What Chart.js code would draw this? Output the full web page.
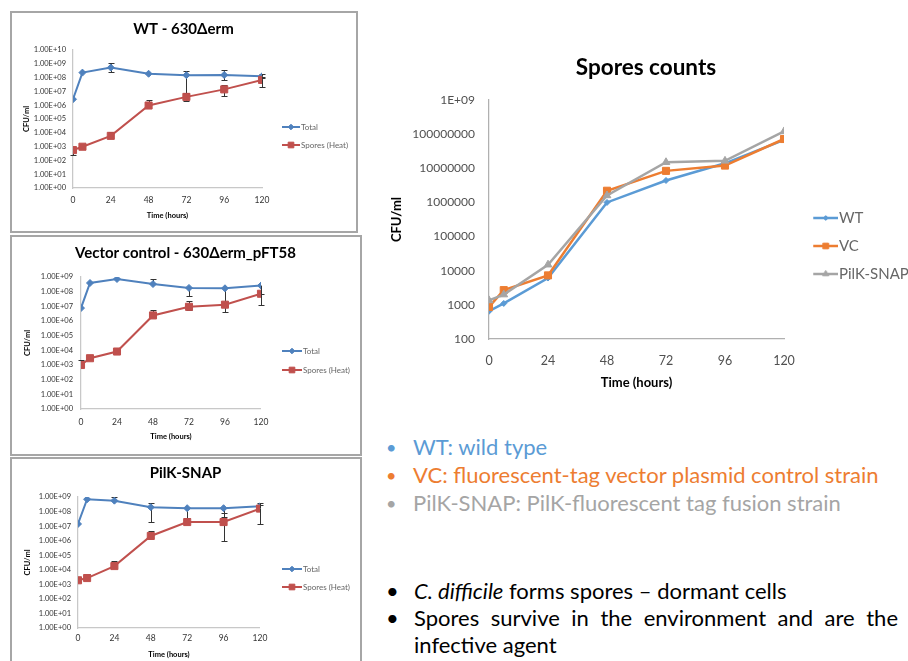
<!DOCTYPE html>
<html>
<head>
<meta charset="utf-8">
<script src="https://cdn.jsdelivr.net/npm/chart.js@4.4.1/dist/chart.umd.min.js"></script>
<style>
  html, body { margin: 0; padding: 0; background: #fff; }
  body { width: 908px; height: 661px; position: relative; overflow: hidden; font-family: Lato, "Open Sans", sans-serif; }
  .wrap { position: absolute; }
  .panel { position: absolute; border: 2px solid #a6a6a6; box-sizing: border-box; }
  .keys { position: absolute; left: 370px; top: 433px; font-size: 22px; line-height: 28px; }
  .keys div { position: relative; padding-left: 43px; white-space: nowrap; }
  .keys div::before { content: "\2022"; position: absolute; left: 16px; font-size: 18px; }
  .notes { position: absolute; left: 414px; top: 577px; width: 484px; font-size: 22px; line-height: 27px; text-align: justify; color: #000; }
  .notes p { margin: 0; position: relative; }
  .notes p::before { content: "\2022"; position: absolute; left: -28px; }
</style>
</head>
<body>

<div class="panel" style="left:10px;top:11px;width:348px;height:222px"></div>
<div class="panel" style="left:10px;top:235px;width:352px;height:221px"></div>
<div class="panel" style="left:10px;top:457px;width:352px;height:210px"></div>

<div class="wrap" id="w-wt"><canvas id="c-wt"></canvas></div>
<div class="wrap" id="w-vc"><canvas id="c-vc"></canvas></div>
<div class="wrap" id="w-pk"><canvas id="c-pk"></canvas></div>
<div class="wrap" id="w-main"><canvas id="c-main"></canvas></div>

<div class="keys">
  <div style="color:#5b9bd5">WT: wild type</div>
  <div style="color:#ed7d31">VC: fluorescent-tag vector plasmid control strain</div>
  <div style="color:#a5a5a5">PilK-SNAP: PilK-fluorescent tag fusion strain</div>
</div>

<div class="notes">
  <p><i>C. difficile</i> forms spores – dormant cells</p>
  <p>Spores survive in the environment and are the infective agent</p>
</div>

<script>
// time points (hours)
const hours = [0, 6, 24, 48, 72, 96, 120];
const hourTicks = [0, 24, 48, 72, 96, 120];

// WT - 630Δerm
const wtTotal = [2.7e6, 2.3e8, 5.3e8, 1.9e8, 1.5e8, 1.55e8, 1.25e8];
const wtTotalHi = [null, null, 1.1e9, null, 3e8, 3.5e8, 1.8e8];
const wtTotalLo = [null, null, 2.7e8, null, 7.5e6, 7e7, 9e7];
const wtSpores = [560, 980, 6000, 9.5e5, 4e6, 1.4e7, 6.8e7];
const wtSporesHi = [null, null, 1.2e4, 2.4e6, 7e6, 3e7, 1.2e8];
const wtSporesLo = [260, null, null, null, 2e6, 4.3e6, 2.2e7];

// Vector control - 630Δerm_pFT58
const vcTotal = [7.6e6, 3.9e8, 7.3e8, 3.3e8, 1.8e8, 1.7e8, 2.6e8];
const vcTotalHi = [null, null, null, 7e8, null, null, null];
const vcTotalLo = [null, null, null, null, 4.8e7, 2e7, 7e7];
const vcSpores = [1000, 2900, 8300, 2.4e6, 9.3e6, 1.3e7, 7.2e7];
const vcSporesHi = [2200, null, 1.5e4, 5.5e6, 2.2e7, null, null];
const vcSporesLo = [null, null, null, null, 6e6, 4e6, 1.2e7];

// PilK-SNAP
const pkTotal = [1.4e7, 7e8, 5.6e8, 2e8, 1.7e8, 1.7e8, 2.3e8];
const pkTotalHi = [null, null, 1e9, 4e8, null, null, 4e8];
const pkTotalLo = [null, null, null, 2e7, 3.5e7, 4e7, null];
const pkSpores = [1900, 2700, 1.8e4, 2.1e6, 1.9e7, 1.9e7, 1.6e8];
const pkSporesHi = [null, 5500, 3.8e4, 4.5e6, null, 8e7, 3e8];
const pkSporesLo = [null, null, null, null, null, 1e6, 1.4e7];

// Spores counts (summary)
const sporesWT = [650, 1100, 6100, 1e6, 4.4e6, 1.4e7, 6.8e7];
const sporesVC = [870, 2700, 7300, 2.2e6, 8.4e6, 1.2e7, 7.2e7];
const sporesPK = [1350, 2000, 1.5e4, 1.6e6, 1.5e7, 1.65e7, 1.2e8];

// y ticks
const sciTicks = [1, 10, 100, 1e3, 1e4, 1e5, 1e6, 1e7, 1e8, 1e9, 1e10];
const sciLabels = ['1.00E+00', '1.00E+01', '1.00E+02', '1.00E+03', '1.00E+04', '1.00E+05',
  '1.00E+06', '1.00E+07', '1.00E+08', '1.00E+09', '1.00E+10'];
const mainTicks = [100, 1e3, 1e4, 1e5, 1e6, 1e7, 1e8, 1e9];
const mainLabels = ['100', '1000', '10000', '100000', '1000000', '10000000', '100000000', '1E+09'];

Chart.defaults.font.family = 'Lato, "Open Sans", sans-serif';

const pts = (vals) => hours.map((h, i) => ({ x: h, y: vals[i] }));
const lh = (s) => s * 1.2;

// error bars, drawn through the scales
const errorBars = {
  id: 'errorBars',
  beforeDatasetsDraw(chart) {
    const { ctx, scales: { x, y } } = chart;
    ctx.save();
    ctx.strokeStyle = '#333';
    ctx.lineWidth = 1;
    chart.data.datasets.forEach((ds) => {
      if (!ds.errHi) return;
      ds.data.forEach((pt, i) => {
        const px = Math.round(x.getPixelForValue(pt.x)) + 0.5;
        const py = y.getPixelForValue(pt.y);
        [ds.errHi[i], ds.errLo[i]].forEach((v) => {
          if (v == null) return;
          const ey = Math.round(y.getPixelForValue(v)) + 0.5;
          ctx.beginPath();
          ctx.moveTo(px, py); ctx.lineTo(px, ey);
          ctx.moveTo(px - 3, ey); ctx.lineTo(px + 3, ey);
          ctx.stroke();
        });
      });
    });
    ctx.restore();
  }
};

// legend icon: line with marker, right-aligned so it ends at the text
function legendIcon(ds, boxW, fontSize, lineLen) {
  const w = Math.round(boxW + fontSize - 2), h = 16;
  const c = document.createElement('canvas');
  c.width = w; c.height = h;
  const g = c.getContext('2d');
  g.strokeStyle = ds.borderColor;
  g.fillStyle = ds.backgroundColor;
  g.lineWidth = ds.borderWidth;
  g.beginPath();
  g.moveTo(w - lineLen, h / 2);
  g.lineTo(w, h / 2);
  g.stroke();
  g.lineWidth = 1;
  Chart.helpers.drawPoint(g, { pointStyle: ds.pointStyle, radius: ds.pointRadius * 0.8, borderWidth: 1, rotation: 0 }, w - lineLen / 2, h / 2);
  return c;
}

function buildChart(id, box, plot, o) {
  const wrap = document.getElementById('w-' + id);
  wrap.style.left = box.x + 'px';
  wrap.style.top = box.y + 'px';
  wrap.style.width = box.w + 'px';
  wrap.style.height = box.h + 'px';
  const right = box.x + box.w;
  const bottom = box.y + box.h;
  const padL = o.padL || 0;
  const icons = {};

  return new Chart(document.getElementById('c-' + id), {
    type: 'line',
    data: { datasets: o.datasets },
    options: {
      responsive: true,
      maintainAspectRatio: false,
      animation: false,
      devicePixelRatio: 1,
      layout: { padding: { left: padL, right: 0, top: 0, bottom: 0 } },
      plugins: {
        tooltip: { enabled: false },
        title: {
          display: true,
          text: o.title,
          color: '#000',
          font: { size: o.titleSize, weight: 'bold' },
          padding: { top: o.titleY - box.y - lh(o.titleSize) / 2, bottom: plot.t - o.titleY - lh(o.titleSize) / 2 },
        },
        legend: {
          position: 'right',
          fullSize: false,
          align: 'center',
          maxWidth: right - plot.r,
          title: { display: true, text: '', font: { size: 1, lineHeight: 1 }, padding: { top: o.legShift * 2 - 1, bottom: 0 } },
          labels: {
            usePointStyle: true,
            pointStyleWidth: o.legBox,
            padding: o.legPad,
            color: o.legColor,
            font: { size: o.legSize },
            generateLabels: (chart) => chart.data.datasets.map((ds, i) => ({
              text: ds.label,
              pointStyle: icons[i] || (icons[i] = legendIcon(ds, o.legBox, o.legSize, o.legLine)),
              fillStyle: ds.backgroundColor,
              strokeStyle: ds.borderColor,
              lineWidth: 0,
              hidden: false,
              datasetIndex: i,
            })),
          },
        },
      },
      scales: {
        x: {
          type: 'linear',
          min: 0,
          max: 120,
          afterBuildTicks: (s) => { s.ticks = hourTicks.map((v) => ({ value: v })); },
          afterFit: (s) => { s.height = bottom - plot.b; },
          grid: { display: false, drawTicks: false },
          border: { color: o.axisColor, width: 1.25 },
          ticks: { autoSkip: false, maxRotation: 0, color: o.tickColor, font: { size: o.xTickSize }, padding: o.xLabelY - plot.b - lh(o.xTickSize) / 2 },
          title: {
            display: true, text: 'Time (hours)', color: '#000',
            font: { size: o.axisSize, weight: 'bold' },
            padding: { top: 0, bottom: bottom - o.xTitleY - lh(o.axisSize) / 2 },
          },
        },
        y: {
          type: 'logarithmic',
          min: o.yTicks[0],
          max: o.yTicks[o.yTicks.length - 1],
          afterBuildTicks: (s) => { s.ticks = o.yTicks.map((v) => ({ value: v })); },
          afterFit: (s) => { s.width = plot.l - box.x - padL; },
          grid: { display: false, drawTicks: false },
          border: { color: o.axisColor, width: 1.25 },
          ticks: { autoSkip: false, color: o.tickColor, font: { size: o.yTickSize }, padding: o.yPad, callback: (v, i) => o.yLabels[i] },
          title: {
            display: true, text: 'CFU/ml', color: '#000',
            font: { size: o.axisSize, weight: 'bold' },
            padding: { top: o.yTitleX - box.x - padL - lh(o.axisSize) / 2, bottom: 0 },
          },
        },
      },
    },
    plugins: [errorBars],
  });
}

// small panel series
function panelSets(total, totalHi, totalLo, spores, sporesHi, sporesLo) {
  return [
    { label: 'Total', data: pts(total), errHi: totalHi, errLo: totalLo, order: 2,
      borderColor: '#4f81bd', backgroundColor: '#4f81bd', borderWidth: 2,
      pointStyle: 'rectRot', pointRadius: 3.5, pointBorderWidth: 1 },
    { label: 'Spores (Heat)', data: pts(spores), errHi: sporesHi, errLo: sporesLo, order: 1,
      borderColor: '#c0504d', backgroundColor: '#c0504d', borderWidth: 2,
      pointStyle: 'rect', pointRadius: 5, pointBorderWidth: 1 },
  ];
}

const small = {
  titleSize: 15, axisSize: 7.5, xTickSize: 8.5, yTickSize: 7.5, legSize: 8,
  tickColor: '#333', axisColor: '#c8c8c8', legColor: '#333',
};

buildChart('wt', { x: 11, y: 12, w: 345, h: 219 }, { l: 73, t: 50, r: 262, b: 188 }, {
  ...small, title: 'WT - 630Δerm', titleY: 29,
  datasets: panelSets(wtTotal, wtTotalHi, wtTotalLo, wtSpores, wtSporesHi, wtSporesLo),
  yTicks: sciTicks, yLabels: sciLabels, yPad: 7, yTitleX: 27,
  xLabelY: 200.5, xTitleY: 216,
  legShift: 17, legPad: 10, legBox: 25, legLine: 18,
});

buildChart('vc', { x: 11, y: 236, w: 349, h: 218 }, { l: 81, t: 277, r: 252, b: 409 }, {
  ...small, title: 'Vector control - 630Δerm_pFT58', titleY: 253,
  datasets: panelSets(vcTotal, vcTotalHi, vcTotalLo, vcSpores, vcSporesHi, vcSporesLo),
  yTicks: sciTicks.slice(0, 10), yLabels: sciLabels.slice(0, 10), yPad: 8, yTitleX: 28,
  xLabelY: 422, xTitleY: 437,
  legShift: 17.5, legPad: 11, legBox: 27, legLine: 20,
});

buildChart('pk', { x: 11, y: 458, w: 349, h: 203 }, { l: 78, t: 497, r: 254, b: 628 }, {
  ...small, title: 'PilK-SNAP', titleY: 473,
  datasets: panelSets(pkTotal, pkTotalHi, pkTotalLo, pkSpores, pkSporesHi, pkSporesLo),
  yTicks: sciTicks.slice(0, 10), yLabels: sciLabels.slice(0, 10), yPad: 7, yTitleX: 28,
  xLabelY: 638, xTitleY: 655,
  legShift: 15.5, legPad: 10, legBox: 29, legLine: 20,
});

// Spores counts
buildChart('main', { x: 370, y: 40, w: 538, h: 360 }, { l: 489, t: 100, r: 784, b: 339 }, {
  title: 'Spores counts', titleY: 68, titleSize: 22.5, padL: 14,
  axisSize: 13, xTickSize: 12.5, yTickSize: 12, legSize: 15,
  tickColor: '#505050', axisColor: '#b0b0b0', legColor: '#505050',
  datasets: [
    { label: 'WT', data: pts(sporesWT), order: 3, borderColor: '#5b9bd5', backgroundColor: '#5b9bd5',
      borderWidth: 2.5, pointStyle: 'rectRot', pointRadius: 3, pointBorderWidth: 1 },
    { label: 'VC', data: pts(sporesVC), order: 2, borderColor: '#ed7d31', backgroundColor: '#ed7d31',
      borderWidth: 2.5, pointStyle: 'rect', pointRadius: 5, pointBorderWidth: 1 },
    { label: 'PilK-SNAP', data: pts(sporesPK), order: 1, borderColor: '#a5a5a5', backgroundColor: '#a5a5a5',
      borderWidth: 2.5, pointStyle: 'triangle', pointRadius: 4.5, pointBorderWidth: 1 },
  ],
  yTicks: mainTicks, yLabels: mainLabels, yPad: 14, yTitleX: 397,
  xLabelY: 361, xTitleY: 383,
  legShift: 26.5, legPad: 13, legBox: 34.5, legLine: 25,
});
</script>
</body>
</html>
